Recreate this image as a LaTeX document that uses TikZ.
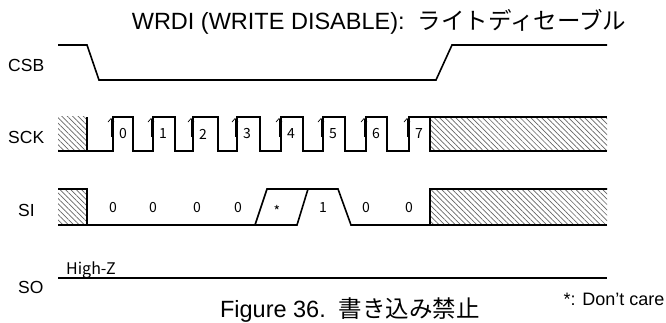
\documentclass[tikz,border=0pt]{standalone}
\usepackage{fontspec}
\setmainfont{Liberation Sans}
\newfontfamily\jpfont{Noto Sans CJK JP}
\usetikzlibrary{patterns.meta, arrows.meta}

\tikzset{
  wave/.style={line width=1.6pt},
  dontcare/.style={pattern={Lines[angle=-45, distance=3.8pt, line width=0.7pt]}, pattern color=black!60},
  siglabel/.style={font=\fontsize{17.5}{20}\selectfont, anchor=west, inner sep=0pt},
  bitlabel/.style={font=\jpfont\fontsize{14}{16}\selectfont, inner sep=0pt},
  edgearrow/.style={-{Straight Barb[length=3.5pt, width=6pt]}, line width=0.7pt}
}

\begin{document}
\begin{tikzpicture}[x=1pt, y=-1pt]
  \useasboundingbox (0,0) rectangle (666,323);

  % title and signal names
  \node[inner sep=0pt] (title) at (379,22) {\fontsize{23.5}{28}\selectfont WRDI (WRITE DISABLE):\ \ {\jpfont ライトディセーブル}};
  \node[siglabel] (csb) at (8,65) {CSB};
  \node[siglabel] (sck) at (8,137) {SCK};
  \node[siglabel] (si) at (18,210) {SI};
  \node[siglabel] (so) at (18,287) {SO};

  % CSB
  \draw[wave] (58,45) -- (87,45) -- (99,80) -- (436,80) -- (452,45) -- (607,45);

  % SCK
  \fill[dontcare] (58,117) rectangle (87,151);
  \fill[dontcare] (430,117) rectangle (607,151);
  \draw[wave] (58,151) -- (87,151) -- (87,117);
  \draw[wave] (87,151)
    foreach \r/\f in {113/133, 153/175, 193/218, 237/260, 281/303, 323/345, 366/387}
      { -- (\r,151) -- (\r,117) -- (\f,117) -- (\f,151) }
    -- (409,151) -- (409,117) -- (607,117);
  \draw[wave] (430,117) -- (430,151) -- (607,151);
  \foreach \r [count=\i from 0] in {113, 153, 193, 237, 281, 323, 366, 409} {
    \draw[edgearrow] (\r-2,137) -- (\r-2,118);
    \node[bitlabel] (sckbit\i) at (\r+10,134) {\i};
  }

  % SI
  \fill[dontcare] (58,189) rectangle (87,225);
  \fill[dontcare] (430,189) rectangle (607,225);
  \draw[wave] (58,189) -- (87,189) -- (87,225);
  \draw[wave] (58,225) -- (297,225) -- (308,189) -- (338,189) -- (351,225) -- (430,225) -- (430,189) -- (607,189);
  \draw[wave] (255,225) -- (267,189) -- (308,189);
  \draw[wave] (430,225) -- (607,225);
  \foreach \x/\b [count=\i] in {113/0, 153/0, 197/0, 238/0, 323/1, 366/0, 409/0}
    \node[bitlabel] (sibit\i) at (\x,208) {\b};
  \node[bitlabel] (sidc) at (277,211) {*};

  % SO
  \draw[wave] (58,278) -- (607,278);
  \node[bitlabel, anchor=south west, font=\jpfont\fontsize{16}{18}\selectfont] (hiz) at (66,279) {High-Z};

  % caption
  \node[inner sep=0pt] (caption) at (350,310) {\fontsize{23.5}{28}\selectfont Figure 36.\ \ {\jpfont 書き込み禁止}};
  \node[inner sep=0pt, font=\fontsize{18}{21}\selectfont] (note) at (614,299) {*: Don’t care};
\end{tikzpicture}
\end{document}
